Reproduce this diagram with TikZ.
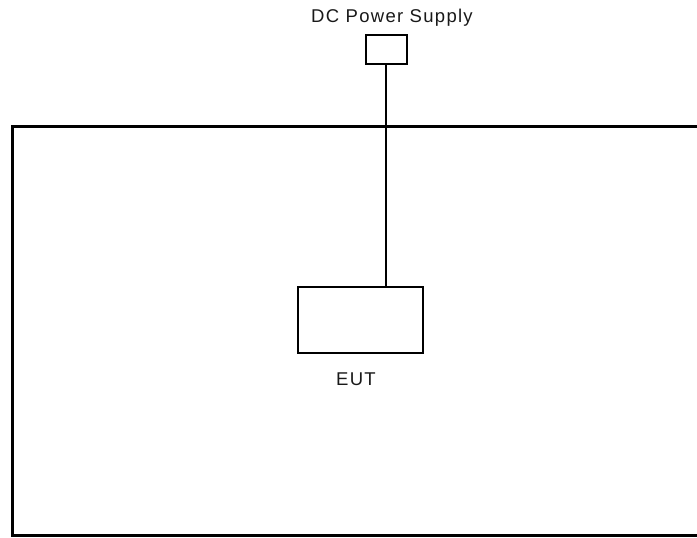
\documentclass[tikz,border=0pt]{standalone}
\usepackage{fontspec}
\setmainfont{Liberation Sans}
\usepackage{xcolor}
\usepackage{tikz}
\usetikzlibrary{positioning}

\begin{document}
\begin{tikzpicture}[x=1pt, y=-1pt, node distance=2pt]
    \useasboundingbox (0,0) rectangle (697,538);
    \tikzset{unit/.style={draw, rectangle, line width=2pt, inner sep=0pt, fill=white}}
    \tikzset{tag/.style={font=\fontsize{18.5}{20}\selectfont\addfontfeature{LetterSpace=7}, text=black!90, inner sep=0pt}}

    % test room
    \draw[line width=3pt] (697,126) -- (12,126) -- (12,535.5) -- (697,535.5);

    \node[unit, minimum width=41pt, minimum height=29pt] (supply) at (386,49.5) {};
    \node[unit, minimum width=125pt, minimum height=66pt] (eut) at (360.5,320) {};

    \node[tag] (supplylabel) at (392,18) {DC Power Supply};
    \node[tag] (eutlabel) at (356,379) {EUT};

    \draw[line width=2pt] (supply.south) -- (supply.south |- eut.north);
\end{tikzpicture}
\end{document}
